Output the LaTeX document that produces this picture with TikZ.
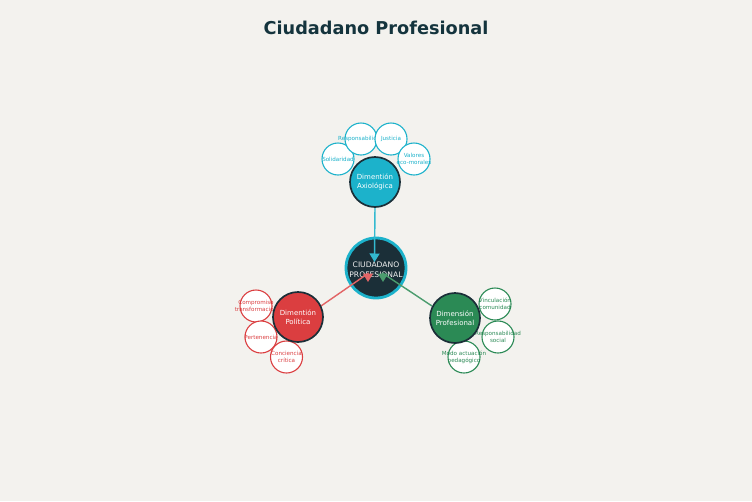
\documentclass[tikz,border=0pt]{standalone}
\usepackage{fontspec}
\setmainfont{DejaVu Sans}
\usetikzlibrary{arrows.meta}
\definecolor{bg}{HTML}{F3F2EE}
\definecolor{dark}{HTML}{1B2F38}
\definecolor{cyanc}{HTML}{1CB2CB}
\definecolor{redc}{HTML}{DB3E40}
\definecolor{greenc}{HTML}{2B8A55}
\definecolor{titlec}{HTML}{14343D}
\begin{document}
\begin{tikzpicture}[x=1pt,y=-1pt,
  sub/.style={circle, fill=white, line width=1.1pt, minimum size=32pt, inner sep=0pt},
  hub/.style={circle, draw=dark, line width=1.7pt, minimum size=50pt, inner sep=0pt},
  lbl/.style={font=\fontsize{5.6}{6.8}\selectfont, align=center, inner sep=0pt},
  hublbl/.style={text=white, font=\fontsize{7}{9}\selectfont, align=center, inner sep=0pt},
  conn/.style={line width=1.4pt, -{Triangle[width=10pt,length=8.5pt]}}]
\fill[bg] (0,0) rectangle (752,501);
\useasboundingbox (0,0) rectangle (752,501);
\node[font=\bfseries\fontsize{17.7}{21}\selectfont, text=titlec] (title) at (376,28) {Ciudadano Profesional};
% center
\node[circle, fill=dark, draw=cyanc, line width=2.8pt, minimum size=60pt, inner sep=0pt] (center) at (376,268) {};
\node[text=white!88!gray, font=\fontsize{7.6}{10}\selectfont, align=center, inner sep=0pt] (centerlbl) at (376,269.5) {CIUDADANO\\PROFESIONAL};
% connector targets
\coordinate (tipA) at (374.5,262);
\coordinate (bendP) at (368,273.5);
\coordinate (tipP) at (368,282);
\coordinate (bendF) at (383,273.5);
\coordinate (tipF) at (383,282);
\coordinate (startA) at (375,206);
\coordinate (startP) at (321,306);
\coordinate (startF) at (432,306);
\draw[conn, draw=cyanc!90!white, fill=cyanc] (startA) -- (tipA);
\draw[conn, draw=redc!80!white, fill=redc] (startP) -- (bendP) -- (tipP);
\draw[conn, draw=greenc!85!white, fill=greenc] (startF) -- (bendF) -- (tipF);
% axiologica small
\node[sub, draw=cyanc] (soli) at (338,159) {};
\node[lbl, text=cyanc] (solit) at (soli) {Solidaridad};
\node[sub, draw=cyanc] (resp) at (361,139) {};
\node[lbl, text=cyanc] (respt) at (resp) {Responsabilidad};
\node[sub, draw=cyanc] (just) at (391,139) {};
\node[lbl, text=cyanc] (justt) at (just) {Justicia};
\node[sub, draw=cyanc] (valo) at (414,159) {};
\node[lbl, text=cyanc] (valot) at (valo) {Valores\\eco-morales};
% politica small
\node[sub, draw=redc] (comp) at (256,306) {};
\node[lbl, text=redc] (compt) at (comp) {Compromiso\\transformación};
\node[sub, draw=redc] (pert) at (261,337) {};
\node[lbl, text=redc] (pertt) at (pert) {Pertenencia};
\node[sub, draw=redc] (conc) at (286.5,357) {};
\node[lbl, text=redc] (conct) at (conc) {Conciencia\\crítica};
% profesional small
\node[sub, draw=greenc] (vinc) at (495,304) {};
\node[lbl, text=greenc] (vinct) at (vinc) {Vinculación\\comunidad};
\node[sub, draw=greenc] (rsoc) at (498,337) {};
\node[lbl, text=greenc] (rsoct) at (rsoc) {Responsabilidad\\social};
\node[sub, draw=greenc] (modo) at (464,357) {};
\node[lbl, text=greenc] (modot) at (modo) {Modo actuación\\pedagógico};
% hubs
\node[hub, fill=cyanc] (axio) at (375,182) {};
\node[hublbl] (axiot) at (axio) {Dimentión\\Axiológica};
\node[hub, fill=redc] (poli) at (298,317) {};
\node[hublbl] (polit) at (poli) {Dimentión\\Política};
\node[hub, fill=greenc] (prof) at (455,318) {};
\node[hublbl] (proft) at (prof) {Dimensión\\Profesional};
\end{tikzpicture}
\end{document}
